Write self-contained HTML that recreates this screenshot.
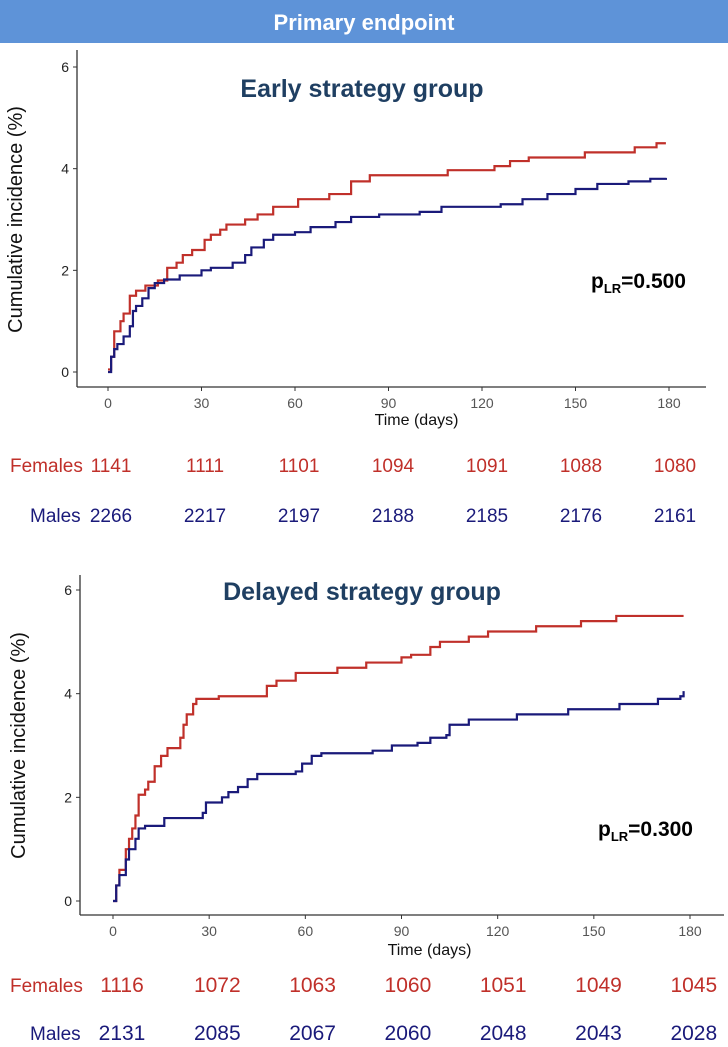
<!DOCTYPE html>
<html><head><meta charset="utf-8"><style>
body{margin:0;background:#fff;}
svg{display:block;font-family:"Liberation Sans Narrow","Liberation Sans",sans-serif;}
</style></head><body>
<svg id="fig" width="728" height="1047" viewBox="0 0 728 1047">
<rect x="0" y="0" width="728" height="43" fill="#5e93d8"/>
<text x="364" y="30" text-anchor="middle" font-family="Liberation Sans, sans-serif" font-weight="bold" font-size="22" fill="#fff">Primary endpoint</text>
<g id="c1"></g><g id="c2"></g>
</svg>
<script>
// ---- data ----
const xTicks=[0,30,60,90,120,150,180];
const yTicks=[0,2,4,6];
const earlyFemalesT=[0,1,2,4,5,7,9,12,16,19,22,24,27,31,33,36,38,44,48,53,61,71,78,84,109,124,129,135,153,169,176,179];
const earlyFemalesY=[0.05,0.3,0.8,1.0,1.15,1.5,1.6,1.7,1.8,2.05,2.15,2.3,2.4,2.6,2.7,2.8,2.9,3.0,3.1,3.25,3.4,3.5,3.75,3.87,3.97,4.05,4.15,4.22,4.32,4.42,4.5,4.5];
const earlyMalesT=[0,1,2,3,5,7,8,9,11,13,15,18,23,30,33,40,44,46,50,53,60,65,73,78,87,100,107,126,133,141,150,157,167,174,179];
const earlyMalesY=[0,0.3,0.45,0.55,0.7,0.9,1.2,1.3,1.45,1.65,1.75,1.82,1.9,2.0,2.05,2.15,2.3,2.45,2.6,2.7,2.75,2.85,2.95,3.05,3.1,3.15,3.25,3.3,3.4,3.5,3.6,3.7,3.75,3.8,3.82];
const delFemalesT=[0,1,2,4,5,6,7,8,10,11,13,15,17,21,22,23,25,26,33,48,51,57,70,79,90,93,99,102,111,117,132,146,157,178];
const delFemalesY=[0,0.3,0.6,1.0,1.2,1.4,1.65,2.05,2.15,2.3,2.6,2.8,2.95,3.15,3.4,3.6,3.8,3.9,3.95,4.15,4.25,4.4,4.5,4.6,4.7,4.75,4.9,5.0,5.1,5.2,5.3,5.4,5.5,5.5];
const delMalesT=[0,1,2,4,5,7,8,10,16,28,29,34,36,39,42,45,57,59,62,65,81,87,95,99,104,105,111,126,142,158,170,177,178];
const delMalesY=[0,0.3,0.5,0.8,1.0,1.2,1.4,1.45,1.6,1.7,1.9,2.0,2.1,2.2,2.35,2.45,2.5,2.65,2.8,2.85,2.9,3.0,3.05,3.15,3.2,3.4,3.5,3.6,3.7,3.8,3.9,3.95,4.05];
const earlyFemalesRisk=[1141,1111,1101,1094,1091,1088,1080];
const earlyMalesRisk=[2266,2217,2197,2188,2185,2176,2161];
const delFemalesRisk=[1116,1072,1063,1060,1051,1049,1045];
const delMalesRisk=[2131,2085,2067,2060,2048,2043,2028];

const NS="http://www.w3.org/2000/svg";
function mk(p,tag,a,txt){const e=document.createElementNS(NS,tag);for(const k in a)e.setAttribute(k,a[k]);if(txt!==undefined)e.textContent=txt;p.appendChild(e);return e;}
const RED="#c0302a",BLUE="#1a1a7a";

function chart(g,o){
 const sx=d=>o.x0+(o.x1-o.x0)*d/180;
 const sy=v=>o.y0-(o.y0-o.y6)*v/6;
 let e;
 e=mk(g,'line',{x1:o.ax,y1:o.top,x2:o.ax,y2:o.axY,stroke:'#333','stroke-width':1.3});
 
 
 e=mk(g,'line',{x1:o.ax,y1:o.axY,x2:o.right,y2:o.axY,stroke:'#333','stroke-width':1.3});
 
 
 yTicks.forEach(v=>{
  mk(g,'line',{x1:o.ax-4,y1:sy(v),x2:o.ax,y2:sy(v),stroke:'#333'});
  e=mk(g,'text',{x:o.ax-8,y:sy(v)+5,'text-anchor':'end','font-size':14,fill:'#222'},v);
  
  
 });
 xTicks.forEach(d=>{
  mk(g,'line',{x1:sx(d),y1:o.axY,x2:sx(d),y2:o.axY+4,stroke:'#333'});
  e=mk(g,'text',{x:sx(d),y:o.axY+21,'text-anchor':'middle','font-size':14,fill:'#555'},d);
  
  
 });
 e=mk(g,'text',{x:(o.x0+o.x1)/2+28,y:o.axY+o.xtY,'text-anchor':'middle','font-size':16,fill:'#111'},'Time (days)');
 
 
 const cy=(o.y0+o.y6)/2;
 e=mk(g,'text',{x:0,y:0,transform:`translate(${o.ax-55},${cy}) rotate(-90)`,'text-anchor':'middle','font-size':20,'font-family':'Liberation Sans, sans-serif',fill:'#111'},'Cumulative incidence (%)');
 
 
 e=mk(g,'text',{x:o.titleX,y:o.titleY,'text-anchor':'middle','font-size':25,'font-weight':'bold',fill:'#1f3f62'},o.title);
 
 
 e=mk(g,'text',{x:o.pX,y:o.pY,'font-size':21,'font-weight':'bold',fill:'#000'});
 
 
 e.innerHTML=`p<tspan font-size="13" dy="5">LR</tspan><tspan dy="-5">=${o.p}</tspan>`;
 [[o.fT,o.fY,RED,'females-curve'],[o.mT,o.mY,BLUE,'males-curve']].forEach(([T,Y,c,n])=>{
  let d=`M${sx(T[0])},${sy(Y[0])}`;
  for(let i=1;i<T.length;i++){d+=`H${sx(T[i])}V${sy(Y[i])}`;}
  const p=mk(g,'path',{d:d,fill:'none',stroke:c,'stroke-width':2.2});
  
  
 });
 [[o.fR,'Females',RED,o.fRY,o.fLX],[o.mR,'Males',BLUE,o.mRY,o.mLX]].forEach(([R,lab,c,y,lx])=>{
  e=mk(g,'text',{x:lx,y:y,'font-size':19,fill:c},lab);
  
  
  R.forEach((v,i)=>{
   e=mk(g,'text',{x:o.rx0+o.rstep*i,y:y,'text-anchor':'middle','font-size':o.rfs,fill:c},v);
   
   
  });
 });
}
const c1=document.getElementById('c1');


const c2=document.getElementById('c2');


chart(c1,{ax:77,top:50,axY:387,right:706,x0:108,x1:669,y0:372,y6:67,title:'Early strategy group',titleX:362,titleY:97,pX:591,pY:288,p:'0.500',
 fT:earlyFemalesT,fY:earlyFemalesY,mT:earlyMalesT,mY:earlyMalesY,fR:earlyFemalesRisk,mR:earlyMalesRisk,
 fRY:472,mRY:522,fLX:10,mLX:30,rx0:111,rstep:94,rfs:19,xtY:38});
chart(c2,{ax:80,top:575,axY:915,right:724,x0:113,x1:690,y0:901,y6:590,title:'Delayed strategy group',titleX:362,titleY:600,pX:598,pY:836,p:'0.300',
 fT:delFemalesT,fY:delFemalesY,mT:delMalesT,mY:delMalesY,fR:delFemalesRisk,mR:delMalesRisk,
 fRY:992,mRY:1040,fLX:10,mLX:30,rx0:122,rstep:95.3,rfs:21,xtY:40});
</script>
</body></html>
